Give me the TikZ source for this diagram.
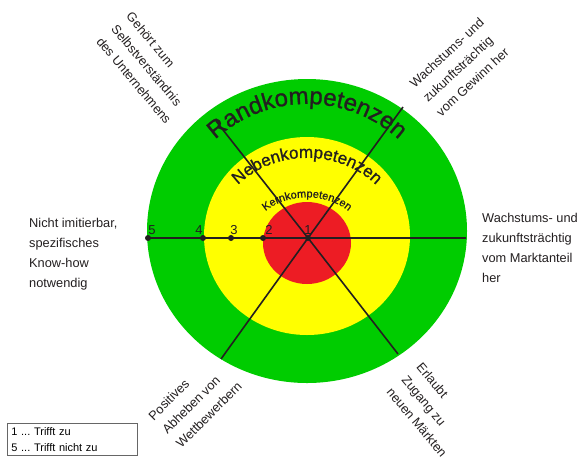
\documentclass[tikz,border=0pt]{standalone}
\usepackage{fontspec}
\setmainfont{Liberation Sans}
\newfontfamily\ringfont[FakeBold=1]{Liberation Sans}
\usetikzlibrary{decorations.text}

\definecolor{ringgreen}{RGB}{0,204,0}
\definecolor{ringyellow}{RGB}{255,255,0}
\definecolor{ringred}{RGB}{237,28,36}
\definecolor{ink}{RGB}{35,31,32}

\tikzset{
  lbl/.style={font=\fontsize{12.8}{19.5}\selectfont, align=left, inner sep=0pt, text=ink},
  num/.style={font=\fontsize{13}{13}\selectfont, inner sep=0pt, text=ink},
  dot/.style={circle, fill=ink, inner sep=0pt, minimum size=6pt},
  spoke/.style={line width=1.6pt, draw=ink},
  axisline/.style={line width=2.6pt, draw=ink},
  ringtext/.style={decorate, decoration={text along path, text align=center, text color=ink}},
}

\begin{document}
\begin{tikzpicture}[x=1pt,y=1pt]
\useasboundingbox (0,0) rectangle (580,-459);

\coordinate (C_0) at (307,-240);

\fill[ringgreen] (307,-231) ellipse [x radius=160, y radius=152];
\fill[ringyellow] (307,-236) ellipse [x radius=103, y radius=99];
\fill[ringred] (307,-243) ellipse [x radius=44, y radius=41];

\coordinate (E_r) at (466,-238);
\coordinate (S_ul) at (216,-121);
\coordinate (S_ur) at (403,-107);
\coordinate (S_ll) at (221,-359);
\coordinate (S_lr) at (398,-354);

\node[dot] (P_1) at (308,-238) {};
\node[dot] (P_2) at (263,-238) {};
\node[dot] (P_3) at (231,-238) {};
\node[dot] (P_4) at (203,-238) {};
\node[dot] (P_5) at (148,-238) {};

\draw[spoke] (P_1.center) -- (S_ul);
\draw[spoke] (P_1.center) -- (S_ur);
\draw[spoke] (P_1.center) -- (S_ll);
\draw[spoke] (P_1.center) -- (S_lr);
\draw[axisline] (P_5.center) -- (E_r);

\path[ringtext, decoration={text={|\ringfont\fontsize{24}{24}\selectfont|Randkompetenzen}}]
  ([shift={(170:136)}]C_0) arc[start angle=170, end angle=10, radius=136];
\path[ringtext, decoration={text={|\ringfont\fontsize{17}{17}\selectfont|Nebenkompetenzen}}]
  ([shift={(170:92)}]C_0) arc[start angle=170, end angle=10, x radius=92, y radius=80];
\path[ringtext, decoration={text={|\ringfont\fontsize{11}{11}\selectfont|Kernkompetenzen}}]
  ([shift={(170:55)}]C_0) arc[start angle=170, end angle=10, x radius=55, y radius=40];

\node[num] (L_1) at (308,-230) {1};
\node[num] (L_2) at (269,-230) {2};
\node[num] (L_3) at (234,-230) {3};
\node[num] (L_4) at (199,-230) {4};
\node[num] (L_5) at (152,-230) {5};

\node[lbl, anchor=west, font=\fontsize{12.8}{20}\selectfont] (T_l) at (29,-254) {Nicht imitierbar,\\spezifisches\\Know-how\\notwendig};
\node[lbl, anchor=west, font=\fontsize{12.8}{20}\selectfont] (T_r) at (482,-248) {Wachstums- und\\zukunftsträchtig\\vom Marktanteil\\her};
\node[lbl, rotate=-50] (T_ul) at (149,-68) {Gehört zum\\Selbstverständnis\\des Unternehmens};
\node[lbl, rotate=43] (T_ur) at (460,-67) {Wachstums- und\\zukunftsträchtig\\vom Gewinn her};
\node[lbl, rotate=45] (T_ll) at (195,-401) {Positives\\Abheben von\\Wettbewerbern};
\node[lbl, rotate=-50] (T_lr) at (432,-410) {Erlaubt\\Zugang zu\\neuen Märkten};

\node[draw=black!60, line width=0.8pt, anchor=north west, align=left, text width=122pt,
  inner xsep=4pt, inner ysep=4pt, font=\fontsize{11}{16}\selectfont\frenchspacing] (K_0) at (7,-423)
  {1 ... Trifft zu\\5 ... Trifft nicht zu};
\end{tikzpicture}
\end{document}
